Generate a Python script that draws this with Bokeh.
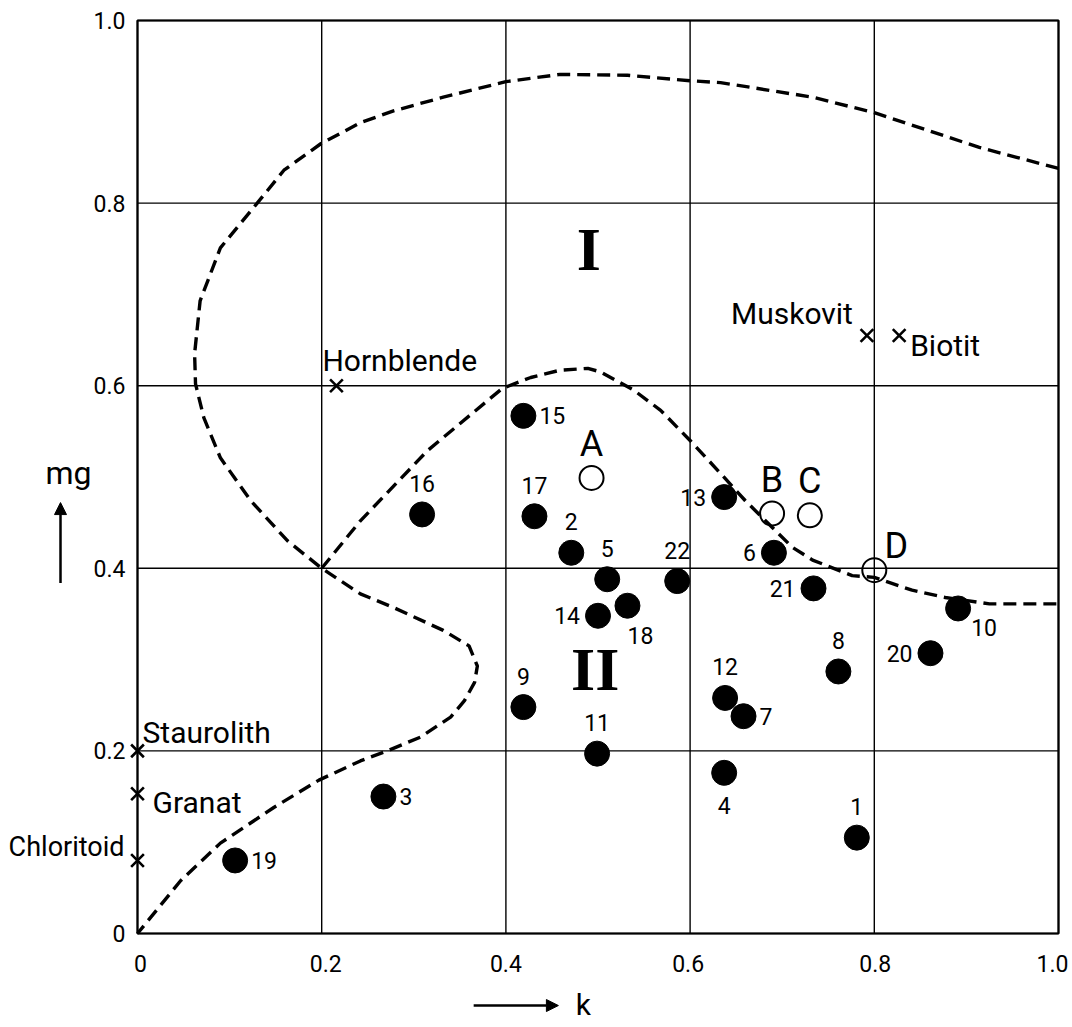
from bokeh.plotting import figure
from bokeh.models import Range1d, Arrow, NormalHead, ColumnDataSource
from bokeh.core.properties import value
from bokeh.embed import file_html
from bokeh.resources import INLINE

# ---------------- data ----------------
tick_values = [0, 0.2, 0.4, 0.6, 0.8, 1.0]
tick_labels = ["0", "0.2", "0.4", "0.6", "0.8", "1.0"]

sample_ids = [str(i) for i in range(1, 23)]
sample_k = [0.781, 0.471, 0.267, 0.637, 0.510, 0.691, 0.658, 0.761, 0.419, 0.891, 0.499,
            0.638, 0.637, 0.500, 0.419, 0.309, 0.431, 0.532, 0.106, 0.861, 0.734, 0.586]
sample_mg = [0.105, 0.417, 0.150, 0.176, 0.388, 0.417, 0.238, 0.287, 0.248, 0.356, 0.197,
             0.258, 0.478, 0.348, 0.567, 0.459, 0.457, 0.359, 0.080, 0.307, 0.378, 0.386]

ref_ids = ["A", "B", "C", "D"]
ref_k = [0.493, 0.689, 0.730, 0.800]
ref_mg = [0.499, 0.460, 0.458, 0.398]

mineral_names = ["Hornblende", "Muskovit", "Biotit", "Staurolith", "Granat", "Chloritoid"]
mineral_k = [0.216, 0.792, 0.827, 0.0, 0.0, 0.0]
mineral_mg = [0.600, 0.655, 0.655, 0.200, 0.153, 0.080]

field_names = ["I", "II"]
field_k = [0.490, 0.497]
field_mg = [0.750, 0.290]

x_title = "k"
y_title = "mg"

# outer boundary (field I), from right edge over the top, round the left, to origin
curve1_k = [1.0, 0.914, 0.8, 0.733, 0.633, 0.6, 0.532, 0.459, 0.4, 0.332, 0.278, 0.242,
            0.199, 0.159, 0.130, 0.090, 0.068, 0.062, 0.063, 0.072, 0.090, 0.123, 0.163,
            0.2, 0.242, 0.278, 0.332, 0.360, 0.369, 0.366, 0.355, 0.340, 0.307, 0.271,
            0.242, 0.197, 0.148, 0.090, 0.047, 0.0]
curve1_mg = [0.838, 0.861, 0.899, 0.916, 0.932, 0.934, 0.940, 0.941, 0.933, 0.916, 0.901, 0.888,
             0.865, 0.836, 0.800, 0.751, 0.693, 0.635, 0.602, 0.565, 0.521, 0.474, 0.430,
             0.400, 0.372, 0.357, 0.332, 0.315, 0.293, 0.275, 0.255, 0.237, 0.215, 0.200,
             0.189, 0.168, 0.138, 0.099, 0.058, 0.0]

# inner boundary (field II)
curve2_k = [0.2, 0.242, 0.315, 0.396, 0.427, 0.459, 0.489, 0.503, 0.539, 0.568, 0.600,
            0.633, 0.660, 0.689, 0.711, 0.733, 0.776, 0.800, 0.841, 0.877, 0.925, 1.0]
curve2_mg = [0.400, 0.452, 0.529, 0.597, 0.609, 0.617, 0.619, 0.615, 0.595, 0.573, 0.540,
             0.504, 0.474, 0.445, 0.423, 0.409, 0.392, 0.390, 0.376, 0.368, 0.361, 0.361]

# where each number sits relative to its dot
sample_label_side = {"1": "above", "2": "above", "3": "right", "4": "below", "5": "above",
                     "6": "left", "7": "right", "8": "above", "9": "above", "10": "belowright2",
                     "11": "above", "12": "above", "13": "left", "14": "left", "15": "right",
                     "16": "above", "17": "above", "18": "belowright", "19": "right",
                     "20": "left", "21": "left", "22": "above"}

# ---------------- layout ----------------
W, H = 1072, 1025
FL, FT, FW, FH = 137, 20, 921, 913          # where the 0..1 box sits on the canvas (px)
lo, hi = tick_values[0], tick_values[-1]
x0 = lo - FL / FW * (hi - lo)
x1 = hi + (W - FL - FW) / FW * (hi - lo)
y1 = hi + FT / FH * (hi - lo)
y0 = lo - (H - FT - FH) / FH * (hi - lo)

FONT = "Roboto"
SERIF = "Liberation Serif"

p = figure(width=W, height=H, x_range=Range1d(x0, x1), y_range=Range1d(y0, y1),
           output_backend="svg", toolbar_location=None,
           min_border_left=0, min_border_top=0, min_border_right=0, min_border_bottom=0)
p.background_fill_color = "white"
p.border_fill_color = "white"
p.outline_line_color = None
p.xaxis.visible = False
p.yaxis.visible = False
p.xgrid.visible = False
p.ygrid.visible = False

n = len(tick_values)
# grid lines at the ticks, limited to the 0..1 box
p.segment(x0=tick_values, y0=[lo] * n, x1=tick_values, y1=[hi] * n,
          line_color="black", line_width=1.4)
p.segment(x0=[lo] * n, y0=tick_values, x1=[hi] * n, y1=tick_values,
          line_color="black", line_width=1.4)
# frame box
p.quad(left=[lo], right=[hi], bottom=[lo], top=[hi], fill_color=None,
       line_color="black", line_width=2.2)

# tick labels
x_lab_dx = [3, 4, 0, -2, 1, -6]
p.text(tick_values, [lo] * n, text=tick_labels, x_offset=x_lab_dx, y_offset=30, text_align="center",
       text_baseline="middle", text_font=value(FONT), text_font_size="23px", text_color="black")
p.text([lo] * n, tick_values, text=tick_labels, x_offset=-12, text_align="right",
       text_baseline="middle", text_font=value(FONT), text_font_size="23px", text_color="black")

# axis titles with arrows
p.text([-0.075], [0.504], text=[y_title], text_align="center", text_baseline="middle",
       text_font=value(FONT), text_font_size="32px", text_color="black")
p.text([0.484], [-0.0778], text=[x_title], text_align="center", text_baseline="middle",
       text_font=value(FONT), text_font_size="30px", text_color="black")
p.add_layout(Arrow(x_start=-0.0836, y_start=0.384, x_end=-0.0836, y_end=0.472,
                   line_width=2.5, line_color="black",
                   end=NormalHead(size=12, fill_color="black", line_color="black", line_width=1)))
p.add_layout(Arrow(x_start=0.365, y_start=-0.0789, x_end=0.457, y_end=-0.0789,
                   line_width=2.5, line_color="black",
                   end=NormalHead(size=12, fill_color="black", line_color="black", line_width=1)))

# dashed boundaries
p.line(curve1_k, curve1_mg, line_color="black", line_width=3.4, line_dash="13 7")
p.line(curve2_k, curve2_mg, line_color="black", line_width=3.4, line_dash="13 7")

# samples
p.scatter(sample_k, sample_mg, size=25, marker="circle", fill_color="black", line_color="black")

off = {"above": (0, -31, "center"), "below": (0, 33, "center"),
       "right": (16, 0, "left"), "left": (-18, 0, "right"),
       "belowright": (13, 30, "center"), "belowright2": (26, 19, "center")}
lx, ly, lt, ldx, ldy, lal = [], [], [], [], [], []
for sid, k, mg in zip(sample_ids, sample_k, sample_mg):
    dx, dy, al = off[sample_label_side[sid]]
    lx.append(k); ly.append(mg); lt.append(sid); ldx.append(dx); ldy.append(dy); lal.append(al)
src = ColumnDataSource(dict(x=lx, y=ly, t=lt, dx=ldx, dy=ldy, al=lal))
p.text("x", "y", text="t", x_offset="dx", y_offset="dy", text_align="al", source=src,
       text_baseline="middle", text_font=value(FONT), text_font_size="23px", text_color="black")

# reference points A-D
p.scatter(ref_k, ref_mg, size=24, marker="circle", fill_color=None, line_color="black", line_width=2)
ref_dx = [0, 0, 0, 22]
ref_dy = [-34, -34, -34, -24]
p.text(ref_k, ref_mg, text=ref_ids, x_offset=ref_dx, y_offset=ref_dy, text_align="center",
       text_baseline="middle", text_font=value(FONT), text_font_size="36px", text_color="black")

# minerals
p.scatter(mineral_k, mineral_mg, size=18, marker="x", line_color="black", line_width=2.6)
min_dx = [-14, -14, 11, 5, 15, -13]
min_dy = [-25, -22, 10, -18, 9, -13]
min_al = ["left", "right", "left", "left", "left", "right"]
min_fs = ["30px", "30px", "30px", "30px", "30px", "27px"]
p.text(mineral_k, mineral_mg, text=mineral_names, x_offset=min_dx, y_offset=min_dy,
       text_align=min_al, text_baseline="alphabetic", text_font=value(FONT),
       text_font_size=min_fs, text_color="black")

# fields I / II
p.text(field_k, field_mg, text=field_names, text_align="center", text_baseline="middle",
       text_font=value(SERIF), text_font_style="bold", text_font_size="62px", text_color="black")

open("out.html", "w").write(file_html(p, INLINE))
